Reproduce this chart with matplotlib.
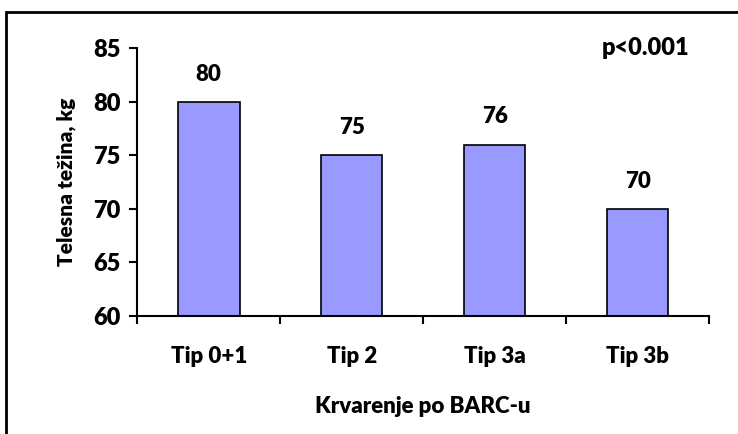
import matplotlib.pyplot as plt
from matplotlib.patches import Rectangle

# data
categories = ['Tip 0+1', 'Tip 2', 'Tip 3a', 'Tip 3b']
weights = [80, 75, 76, 70]
y_ticks = [60, 65, 70, 75, 80, 85]

plt.rcParams['font.family'] = ['Lato', 'DejaVu Sans']
W = 'heavy'
FS = 16

fig = plt.figure(figsize=(7.38, 4.34), dpi=100)
ax = fig.add_axes([0.186, 0.272, 0.775, 0.617])

x = list(range(len(categories)))
ax.bar(x, weights, width=0.43, bottom=0, color='#9999ff',
       edgecolor='black', linewidth=1.2)

for xi, v in zip(x, weights):
    ax.text(xi, v + 1.6, str(v), ha='center', va='bottom',
            fontsize=FS, fontweight=W)

ax.set_ylim(60, 85)
ax.set_xlim(-0.5, len(categories) - 0.5)
ax.set_yticks(y_ticks)
ax.set_yticklabels([str(t) for t in y_ticks], fontsize=FS + 1, fontweight=W)

# categories between the tick marks, ticks on the boundaries
ax.set_xticks([i - 0.5 for i in range(len(categories) + 1)])
ax.set_xticklabels([])
for xi, c in zip(x, categories):
    ax.text(xi, -0.15, c, transform=ax.get_xaxis_transform(),
            ha='center', va='center', fontsize=FS, fontweight=W)

ax.tick_params(axis='both', direction='out', length=6, width=1.5)
ax.tick_params(axis='y', pad=6)
for s in ['top', 'right']:
    ax.spines[s].set_visible(False)
for s in ['left', 'bottom']:
    ax.spines[s].set_linewidth(1.5)

ax.set_ylabel('Telesna težina, kg', fontsize=FS - 1, fontweight=W, labelpad=12)
ax.text(0.5, -0.34, 'Krvarenje po BARC-u', transform=ax.transAxes,
        ha='center', va='center', fontsize=FS, fontweight=W)

ax.text(0.965, 1.04, 'p<0.001', transform=ax.transAxes, ha='right', va='top',
        fontsize=FS + 1, fontweight=W)

# outer frame, open at the bottom
fig.patches.append(Rectangle((0.008, -0.1), 1.5, 1.072, transform=fig.transFigure,
                             fill=False, edgecolor='black', linewidth=2))

fig.savefig('out.png', dpi=100)
